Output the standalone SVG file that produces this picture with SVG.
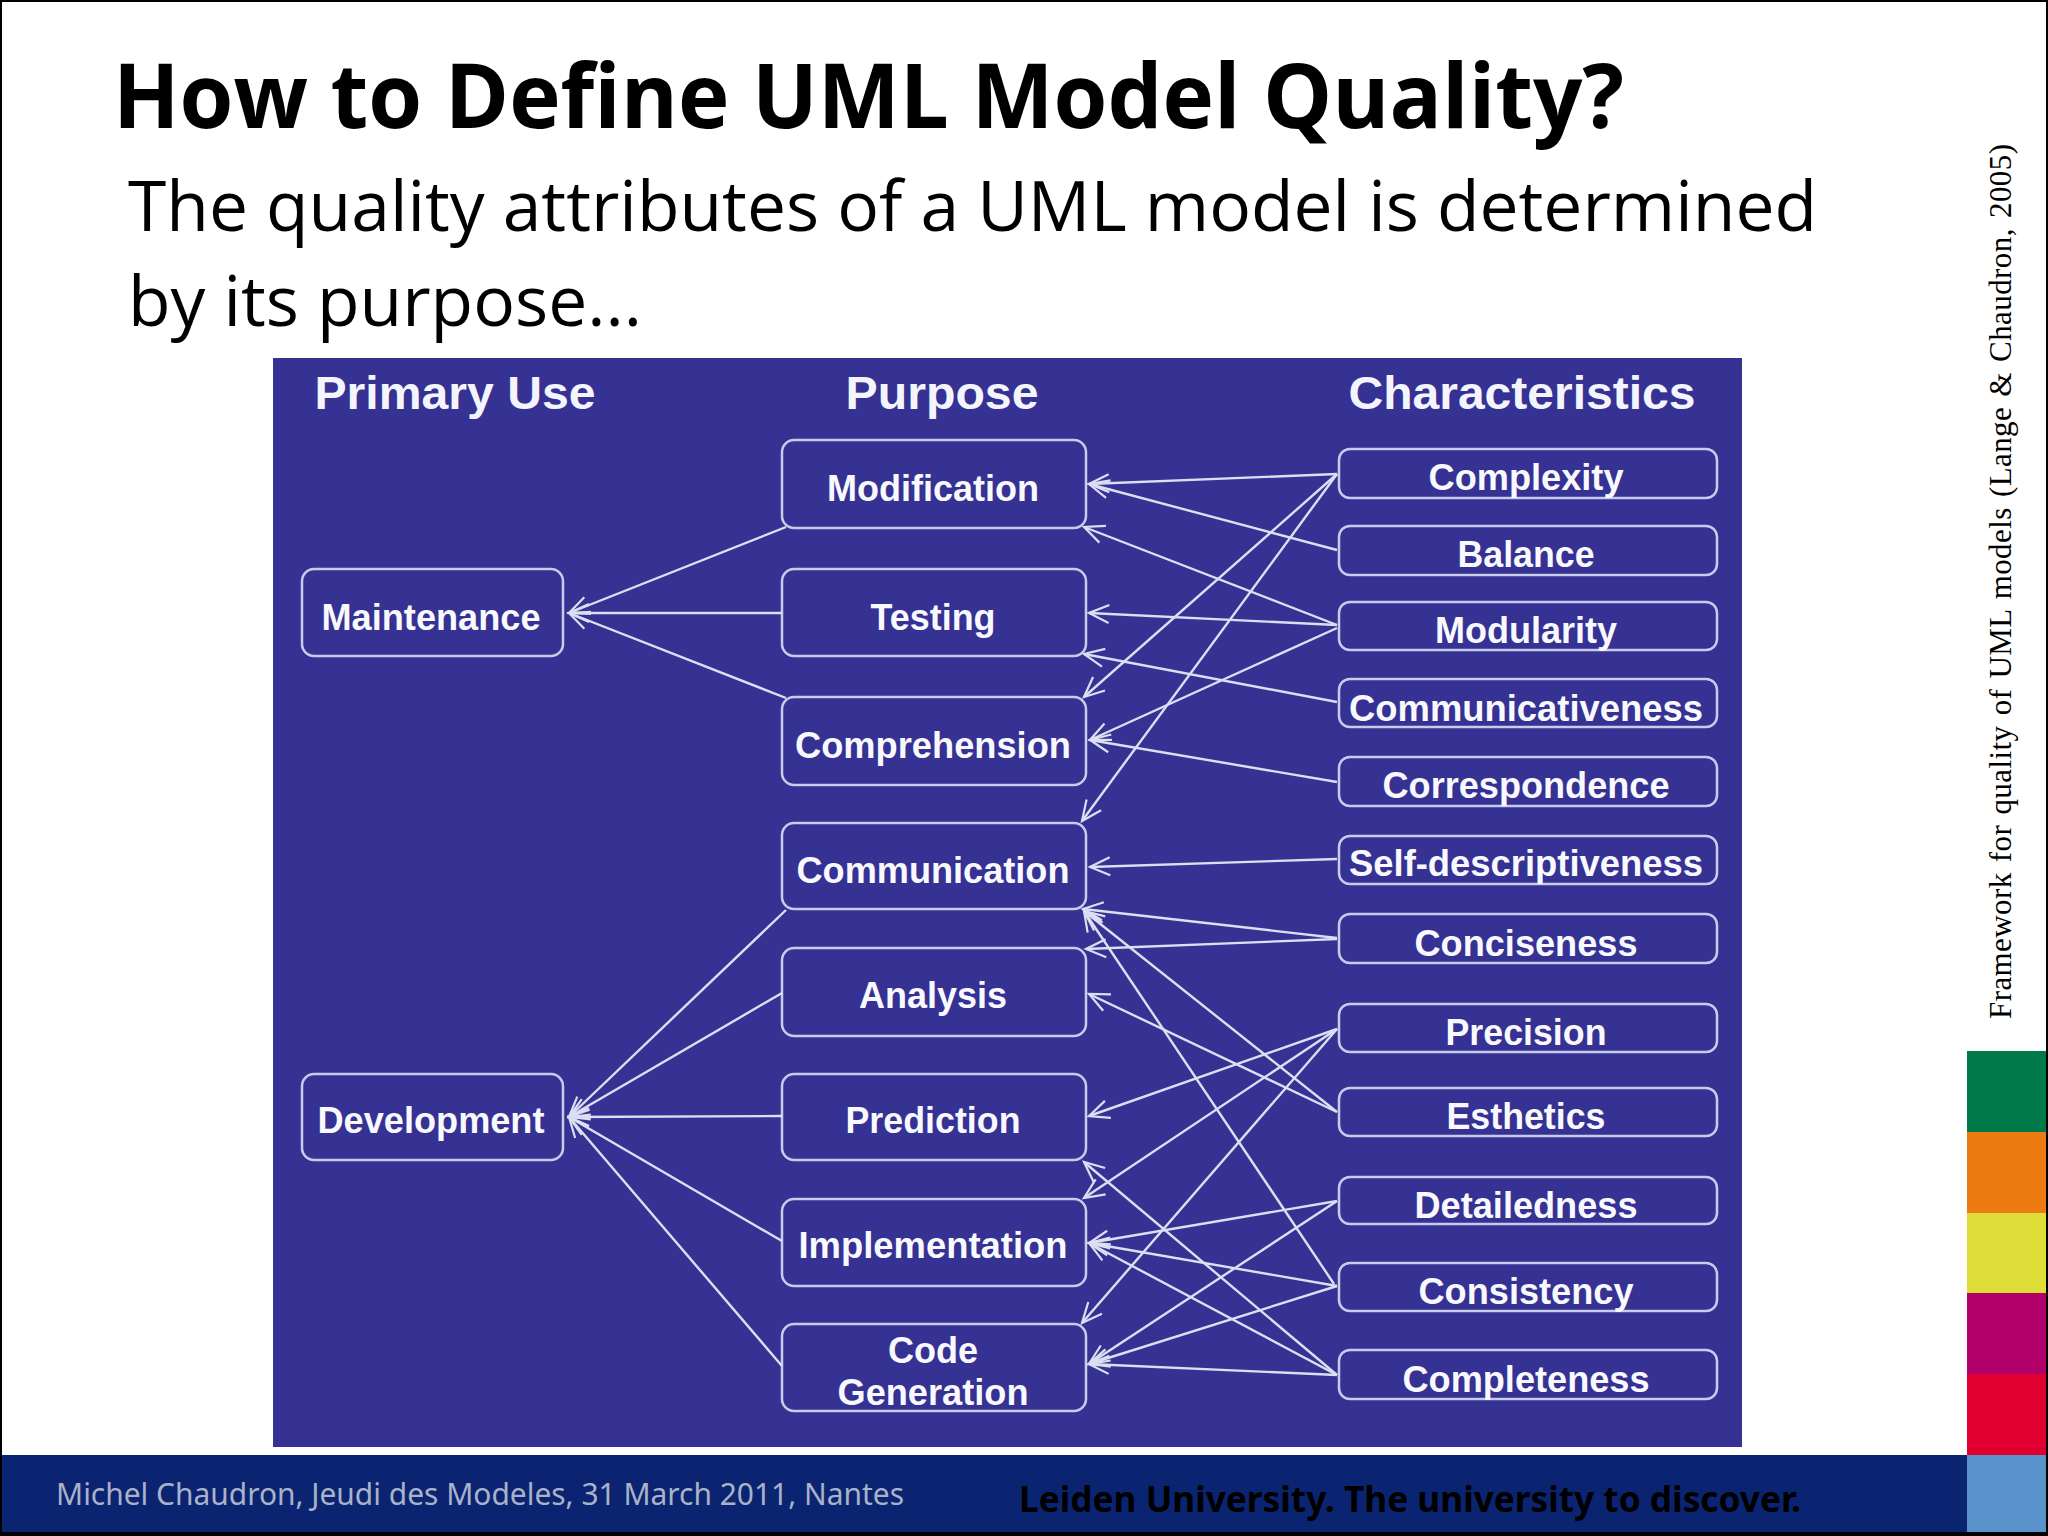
<svg xmlns="http://www.w3.org/2000/svg" width="2048" height="1536" viewBox="0 0 2048 1536">
<style>
.box{fill:#353293;stroke:#c9cbea;stroke-width:2.5}
.lbl{font-family:"Liberation Sans",Arial,sans-serif;font-weight:700;font-size:36px;fill:#f8f8fd;text-anchor:middle}
.hdr{font-family:"Liberation Sans",Arial,sans-serif;font-weight:700;font-size:46px;fill:#f4f5fc;text-anchor:middle}
.ttl{font-family:"Open Sans","Noto Sans",sans-serif;font-weight:700;font-size:90px;fill:#000}
.sub{font-family:"Open Sans","Noto Sans",sans-serif;font-size:70px;fill:#000;font-variant-ligatures:none}
.ftl{font-family:"Noto Sans","Open Sans",sans-serif;font-size:30px;fill:#a9b2c8}
.ftr{font-family:"Noto Sans","Open Sans",sans-serif;font-weight:700;font-size:36px;fill:#000}
.conn line{stroke:#dcdef2;stroke-width:2.4;marker-end:url(#a)}
</style>
<defs>
<marker id="a" markerUnits="userSpaceOnUse" markerWidth="26" markerHeight="24" refX="23" refY="11" viewBox="0 0 26 24" orient="auto">
<path d="M3 2 L23 11 L3 20" fill="none" stroke="#dcdef2" stroke-width="2.2"/>
</marker>
</defs>
<rect width="2048" height="1536" fill="#fff"/>
<g id="frame">
<rect x="0" y="0" width="2048" height="2" fill="#000"/>
<rect x="0" y="0" width="2" height="1536" fill="#000"/>
<rect x="2046" y="0" width="2" height="1536" fill="#000"/>
<rect x="0" y="1532" width="2048" height="4" fill="#000"/>
</g>
<text class="ttl" x="113" y="128" textLength="1511" lengthAdjust="spacingAndGlyphs">How to Define UML Model Quality?</text>
<text class="sub" x="128" y="231" textLength="1689" lengthAdjust="spacingAndGlyphs">The quality attributes of a UML model is determined</text>
<text class="sub" x="128" y="326" textLength="514" lengthAdjust="spacingAndGlyphs">by its purpose...</text>
<text x="2011" y="1019" transform="rotate(-90 2011 1019)" font-family="Liberation Serif,serif" font-size="31" word-spacing="2" fill="#000" textLength="875" lengthAdjust="spacing">Framework for quality of UML models (Lange &amp; Chaudron, 2005)</text>
<rect x="273" y="358" width="1469" height="1089" fill="#353293"/>
<text class="hdr" x="455" y="409" textLength="281" lengthAdjust="spacingAndGlyphs">Primary Use</text>
<text class="hdr" x="942" y="409" textLength="193" lengthAdjust="spacingAndGlyphs">Purpose</text>
<text class="hdr" x="1522" y="409" textLength="347" lengthAdjust="spacingAndGlyphs">Characteristics</text>
<g id="maintenance"><rect class="box" x="302" y="569" width="261" height="87" rx="12"/><text class="lbl" x="431" y="630" textLength="219" lengthAdjust="spacingAndGlyphs">Maintenance</text></g>
<g id="development"><rect class="box" x="302" y="1074" width="261" height="86" rx="12"/><text class="lbl" x="431" y="1133" textLength="227" lengthAdjust="spacingAndGlyphs">Development</text></g>
<g id="modification"><rect class="box" x="782" y="440" width="304" height="88" rx="12"/><text class="lbl" x="933" y="501" textLength="212" lengthAdjust="spacingAndGlyphs">Modification</text></g>
<g id="testing"><rect class="box" x="782" y="569" width="304" height="87" rx="12"/><text class="lbl" x="933" y="630" textLength="125" lengthAdjust="spacingAndGlyphs">Testing</text></g>
<g id="comprehension"><rect class="box" x="782" y="697" width="304" height="88" rx="12"/><text class="lbl" x="933" y="758" textLength="276" lengthAdjust="spacingAndGlyphs">Comprehension</text></g>
<g id="communication"><rect class="box" x="782" y="823" width="304" height="86" rx="12"/><text class="lbl" x="933" y="883" textLength="273" lengthAdjust="spacingAndGlyphs">Communication</text></g>
<g id="analysis"><rect class="box" x="782" y="948" width="304" height="88" rx="12"/><text class="lbl" x="933" y="1008" textLength="148" lengthAdjust="spacingAndGlyphs">Analysis</text></g>
<g id="prediction"><rect class="box" x="782" y="1074" width="304" height="86" rx="12"/><text class="lbl" x="933" y="1133" textLength="175" lengthAdjust="spacingAndGlyphs">Prediction</text></g>
<g id="implementation"><rect class="box" x="782" y="1199" width="304" height="87" rx="12"/><text class="lbl" x="933" y="1258" textLength="269" lengthAdjust="spacingAndGlyphs">Implementation</text></g>
<g id="code-generation"><rect class="box" x="782" y="1324" width="304" height="87" rx="12"/><text class="lbl" x="933" y="1363" textLength="90" lengthAdjust="spacingAndGlyphs">Code</text><text class="lbl" x="933" y="1405" textLength="191" lengthAdjust="spacingAndGlyphs">Generation</text></g>
<g id="complexity"><rect class="box" x="1339" y="449" width="378" height="49" rx="11"/><text class="lbl" x="1526" y="490" textLength="195" lengthAdjust="spacingAndGlyphs">Complexity</text></g>
<g id="balance"><rect class="box" x="1339" y="526" width="378" height="49" rx="11"/><text class="lbl" x="1526" y="567" textLength="137" lengthAdjust="spacingAndGlyphs">Balance</text></g>
<g id="modularity"><rect class="box" x="1339" y="602" width="378" height="48" rx="11"/><text class="lbl" x="1526" y="643" textLength="182" lengthAdjust="spacingAndGlyphs">Modularity</text></g>
<g id="communicativeness"><rect class="box" x="1339" y="679" width="378" height="48" rx="11"/><text class="lbl" x="1526" y="721" textLength="354" lengthAdjust="spacingAndGlyphs">Communicativeness</text></g>
<g id="correspondence"><rect class="box" x="1339" y="757" width="378" height="49" rx="11"/><text class="lbl" x="1526" y="798" textLength="287" lengthAdjust="spacingAndGlyphs">Correspondence</text></g>
<g id="self-descriptiveness"><rect class="box" x="1339" y="836" width="378" height="48" rx="11"/><text class="lbl" x="1526" y="876" textLength="354" lengthAdjust="spacingAndGlyphs">Self-descriptiveness</text></g>
<g id="conciseness"><rect class="box" x="1339" y="914" width="378" height="49" rx="11"/><text class="lbl" x="1526" y="956" textLength="223" lengthAdjust="spacingAndGlyphs">Conciseness</text></g>
<g id="precision"><rect class="box" x="1339" y="1004" width="378" height="48" rx="11"/><text class="lbl" x="1526" y="1045" textLength="161" lengthAdjust="spacingAndGlyphs">Precision</text></g>
<g id="esthetics"><rect class="box" x="1339" y="1088" width="378" height="48" rx="11"/><text class="lbl" x="1526" y="1129" textLength="159" lengthAdjust="spacingAndGlyphs">Esthetics</text></g>
<g id="detailedness"><rect class="box" x="1339" y="1177" width="378" height="47" rx="11"/><text class="lbl" x="1526" y="1218" textLength="223" lengthAdjust="spacingAndGlyphs">Detailedness</text></g>
<g id="consistency"><rect class="box" x="1339" y="1263" width="378" height="48" rx="11"/><text class="lbl" x="1526" y="1304" textLength="215" lengthAdjust="spacingAndGlyphs">Consistency</text></g>
<g id="completeness"><rect class="box" x="1339" y="1350" width="378" height="49" rx="11"/><text class="lbl" x="1526" y="1392" textLength="247" lengthAdjust="spacingAndGlyphs">Completeness</text></g>
<g id="connectors" class="conn">
<line x1="786" y1="527" x2="569" y2="613"/>
<line x1="782" y1="613" x2="569" y2="613"/>
<line x1="786" y1="698" x2="569" y2="613"/>
<line x1="786" y1="910" x2="569" y2="1117"/>
<line x1="782" y1="993" x2="569" y2="1117"/>
<line x1="782" y1="1116" x2="569" y2="1117"/>
<line x1="782" y1="1241" x2="569" y2="1117"/>
<line x1="782" y1="1366" x2="569" y2="1117"/>
<line x1="1337" y1="474" x2="1089" y2="484"/>
<line x1="1337" y1="550" x2="1089" y2="484"/>
<line x1="1337" y1="625" x2="1084" y2="527"/>
<line x1="1337" y1="625" x2="1089" y2="613"/>
<line x1="1337" y1="628" x2="1090" y2="740"/>
<line x1="1337" y1="702" x2="1084" y2="654"/>
<line x1="1337" y1="474" x2="1084" y2="697"/>
<line x1="1337" y1="474" x2="1082" y2="821"/>
<line x1="1337" y1="782" x2="1090" y2="740"/>
<line x1="1337" y1="859" x2="1090" y2="867"/>
<line x1="1337" y1="938" x2="1083" y2="909"/>
<line x1="1337" y1="939" x2="1086" y2="949"/>
<line x1="1337" y1="1112" x2="1084" y2="911"/>
<line x1="1337" y1="1112" x2="1089" y2="994"/>
<line x1="1337" y1="1029" x2="1089" y2="1116"/>
<line x1="1337" y1="1029" x2="1084" y2="1198"/>
<line x1="1337" y1="1029" x2="1082" y2="1323"/>
<line x1="1334" y1="1284" x2="1084" y2="911"/>
<line x1="1337" y1="1201" x2="1089" y2="1243"/>
<line x1="1337" y1="1201" x2="1089" y2="1364"/>
<line x1="1337" y1="1286" x2="1089" y2="1243"/>
<line x1="1337" y1="1286" x2="1089" y2="1364"/>
<line x1="1337" y1="1375" x2="1089" y2="1243"/>
<line x1="1337" y1="1375" x2="1084" y2="1162"/>
<line x1="1337" y1="1375" x2="1089" y2="1364"/>
</g>
<g id="footer">
<rect x="2" y="1455" width="1965" height="77" fill="#0a2472"/>
<text class="ftl" x="56" y="1505" textLength="848" lengthAdjust="spacingAndGlyphs">Michel Chaudron, Jeudi des Modeles, 31 March 2011, Nantes</text>
<text class="ftr" x="1019" y="1512" textLength="782" lengthAdjust="spacingAndGlyphs">Leiden University. The university to discover.</text>
</g>
<g id="stripes">
<rect x="1967" y="1051" width="79" height="81" fill="#007a4a"/>
<rect x="1967" y="1132" width="79" height="81" fill="#ec7c12"/>
<rect x="1967" y="1213" width="79" height="80" fill="#dfdd37"/>
<rect x="1967" y="1293" width="79" height="81" fill="#b2006b"/>
<rect x="1967" y="1374" width="79" height="81" fill="#e0002f"/>
<rect x="1967" y="1455" width="79" height="77" fill="#5a93cb"/>
</g>
</svg>
